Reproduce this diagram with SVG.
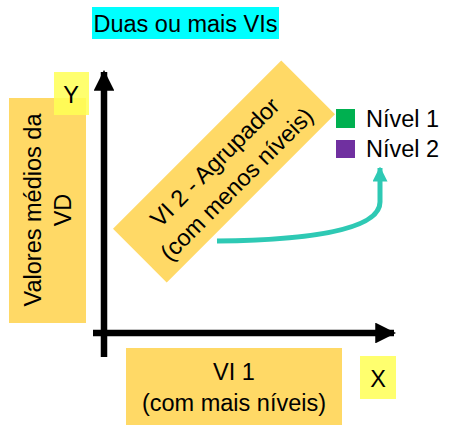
<svg xmlns="http://www.w3.org/2000/svg" width="450" height="430" viewBox="0 0 450 430">
<style>
text{font-family:"Liberation Sans",Arial,sans-serif;font-size:23.5px;fill:#000}
.box{fill:#FFD966}
.yel{fill:#FFFF55;opacity:0.85}
</style>
<defs>
<marker id="ah" viewBox="0 0 10 10" refX="9" refY="5" markerWidth="3.2" markerHeight="3.2" orient="auto" markerUnits="strokeWidth">
<path d="M0,0 L10,5 L0,10 z" fill="#000"/>
</marker>
<marker id="ahT" viewBox="0 0 10 10" refX="9" refY="5" markerWidth="3" markerHeight="3" orient="auto" markerUnits="strokeWidth">
<path d="M0,0 L10,5 L0,10 z" fill="#2EC9B4"/>
</marker>
</defs>
<g id="title">
<rect x="92" y="7" width="187" height="32" fill="#00FFFF"/>
<text x="185.5" y="31.5" text-anchor="middle">Duas ou mais VIs</text>
</g>
<g id="ylabel">
<rect class="box" x="9" y="98" width="77" height="225"/>
<text transform="translate(47,210) rotate(-90)" text-anchor="middle"><tspan x="0" y="-6">Valores médios da</tspan><tspan x="0" y="24">VD</tspan></text>
</g>
<g id="ybox">
<rect class="yel" x="54" y="72" width="35" height="43"/>
<text x="71" y="103" text-anchor="middle">Y</text>
</g>
<g id="vi2">
<g transform="translate(224,171.5) rotate(-45)">
<rect class="box" x="-119" y="-38" width="238" height="76"/>
<text text-anchor="middle"><tspan x="0" y="-5">VI 2 - Agrupador</tspan><tspan x="0" y="26">(com menos níveis)</tspan></text>
</g>
</g>
<g id="legend">
<rect x="336" y="109" width="19" height="19" fill="#00B050"/>
<text x="366" y="127">Nível 1</text>
<rect x="336" y="140" width="19" height="18" fill="#7030A0"/>
<text x="366" y="157">Nível 2</text>
</g>
<g id="vi1">
<rect class="box" x="126" y="348" width="216" height="77"/>
<text text-anchor="middle"><tspan x="234" y="380">VI 1</tspan><tspan x="234" y="411">(com mais níveis)</tspan></text>
</g>
<g id="xbox">
<rect class="yel" x="360" y="356" width="36" height="43"/>
<text x="378" y="387" text-anchor="middle">X</text>
</g>
<g id="connectors">
<line x1="104" y1="357" x2="104" y2="72" stroke="#000" stroke-width="6.5" marker-end="url(#ah)"/>
<line x1="93" y1="333" x2="394" y2="333" stroke="#000" stroke-width="6.5" marker-end="url(#ah)"/>
<path d="M217,241 C310,240 380,230 380,202 L380,168" fill="none" stroke="#2EC9B4" stroke-width="5" marker-end="url(#ahT)"/>
</g>
</svg>
